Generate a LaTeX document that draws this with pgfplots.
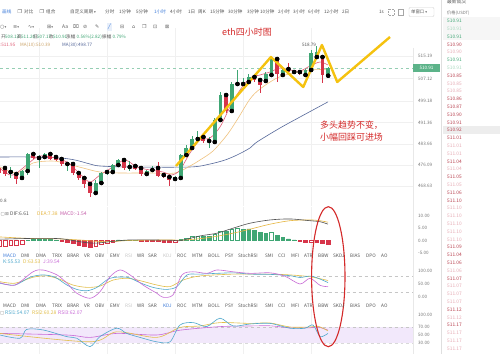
\documentclass[border=0pt]{standalone}
\usepackage{pgfplots}
\pgfplotsset{compat=1.18}
\usepackage{pgfplotstable}
\usepackage{fontspec}
\setmainfont{Noto Sans CJK SC}
\newfontfamily\djf{DejaVu Sans}
\newcommand\fs[1]{\fontsize{#1}{#1}\selectfont}
\definecolor{cup}{HTML}{3FA674}
\definecolor{cdn}{HTML}{D7354A}
\definecolor{ma5}{HTML}{E06078}
\definecolor{ma10}{HTML}{F0C27E}
\definecolor{ma30}{HTML}{56689A}
\definecolor{zig}{HTML}{F5C20F}
\definecolor{gridc}{HTML}{F0F0F0}
\definecolor{txt}{HTML}{555555}
\definecolor{lbl}{HTML}{777777}
\definecolor{dif}{HTML}{505050}
\definecolor{dea}{HTML}{E6B640}
\definecolor{macdc}{HTML}{C45AA8}
\definecolor{kc}{HTML}{4EA8CC}
\definecolor{dc}{HTML}{E2BE48}
\definecolor{jc}{HTML}{C86AD6}
\definecolor{band}{HTML}{F2E8FB}
\definecolor{annot}{HTML}{D42A2A}
\definecolor{blu}{HTML}{3D7BD9}
\definecolor{obG}{HTML}{3FA674}
\definecolor{obg}{HTML}{A8D8BE}
\definecolor{obR}{HTML}{B8404E}
\definecolor{obr}{HTML}{E6AAB4}

\pgfplotstableread{
i o h l c
1 473.64 475.44 471.50 474.36
3 471.50 474.36 471.14 474.00
4 474.00 480.45 472.57 480.09
6 478.66 479.73 475.08 479.02
7 479.02 480.45 478.66 480.09
11 476.51 477.23 474.00 476.87
16 466.13 470.78 465.41 469.70
17 469.70 473.64 469.35 473.29
18 473.64 474.36 472.57 474.00
19 473.64 476.51 473.29 476.15
20 476.15 478.30 475.79 477.94
22 475.44 477.58 474.00 475.79
25 472.93 474.36 472.21 474.00
26 474.36 475.79 474.00 474.72
30 471.14 472.21 470.78 471.85
31 471.50 480.09 471.14 479.73
32 479.73 483.31 479.38 482.24
33 482.24 486.54 481.88 485.46
34 485.46 488.33 485.10 486.18
36 484.75 486.18 482.24 485.10
37 484.39 492.98 484.03 492.27
38 492.27 502.30 491.91 501.22
40 495.49 505.88 495.13 505.16
41 505.16 510.18 504.80 505.52
42 505.16 507.31 504.45 505.52
43 505.88 508.74 505.16 507.67
46 506.24 509.46 505.88 508.74
47 508.39 514.47 508.03 514.12
49 508.39 510.53 508.03 510.18
51 509.46 510.18 509.10 509.82
53 508.39 510.53 508.03 510.18
54 510.18 517.34 509.82 516.26
55 514.83 518.79 514.47 516.62
57 508.13 511.20 507.17 510.91
}\up
\pgfplotstableread{
i o h l c
-1 475.08 475.79 472.57 473.29
0 475.08 475.44 472.21 472.93
2 472.93 473.64 469.35 471.14
5 480.09 480.45 478.30 478.66
8 480.09 480.81 477.94 478.30
9 479.02 479.73 477.58 477.94
10 478.30 479.02 475.79 476.51
12 476.51 476.87 472.57 473.29
13 473.29 473.64 470.78 471.50
14 471.50 471.85 467.92 469.35
15 469.35 469.70 464.69 466.13
21 477.94 478.30 474.36 475.08
23 475.79 476.15 474.36 474.72
24 475.08 475.79 472.21 472.93
27 475.08 477.23 471.85 472.21
28 472.57 472.93 471.50 471.85
29 471.85 472.21 468.63 470.78
35 486.18 486.54 484.03 484.75
39 501.22 501.94 494.77 495.49
44 507.67 508.39 505.88 506.59
45 506.59 507.31 501.94 504.80
48 514.12 514.47 505.88 508.74
50 510.53 512.68 509.10 509.46
52 509.46 509.82 508.39 508.74
56 514.83 515.19 505.52 508.39
}\down

\pgfplotsset{
  panel/.style={scale only axis, width=413bp, xmin=-0.88, xmax=71.96,
    anchor=north west, axis line style={draw=none}, tick style={draw=none},
    xtick={6,18,30,42,54}, xticklabels={}, xmajorgrids,
    grid style={gridc, line width=0.4bp},
    ytick pos=right, yticklabel pos=right,
    yticklabel style={font=\fs{4.6}, text=lbl, anchor=west, inner sep=0pt, xshift=5bp},
    /pgf/number format/assume math mode=true},
  wick/.style={only marks, mark=none, forget plot, error bars/.cd, y dir=both, y explicit,
    error mark=none, error bar style={line width=0.7bp, draw=#1}},
  body/.style={only marks, mark=none, forget plot, error bars/.cd, y dir=both, y explicit,
    error mark=none, error bar style={line width=3.9bp, draw=#1}},
}
\tikzset{
  tb/.style={anchor=west, inner sep=0pt, font=\fs{4.6}, text=txt},
  tab/.style={anchor=west, inner sep=0pt, font=\fs{4.7}, text=txt},
  ob/.style={anchor=west, inner sep=0pt, font=\fs{4.8}},
}

\begin{document}
\begin{tikzpicture}
\path[use as bounding box, fill=white] (0bp,0bp) rectangle (500bp,354bp);

% ---------------- main candlestick chart (top at image y=28)
\begin{axis}[panel, at={(0bp,326bp)}, height=178bp, ymin=461.47, ymax=525.22,
  ymajorgrids,
  ytick={468.63,476.09,483.66,491.36,499.18,507.12,515.19},
  yticklabels={468.63,476.09,483.66,491.36,499.18,507.12,515.19}]
\addplot[dashed, color=cup!55, line width=0.5bp, forget plot] coordinates {(-0.88,510.91) (71.96,510.91)};
\addplot[ma30, line width=0.6bp, smooth] coordinates {(-0.88,479.02) (4.41,479.02) (9.70,478.66) (12.35,477.94) (14.99,476.51) (16.75,475.79) (22.05,475.44) (32.63,475.44) (36.16,476.51) (38.80,477.94) (40.92,479.73) (43.21,482.24) (44.44,484.39) (48.50,489.40) (52.03,493.34) (56.97,498.77)};
\addplot[ma10, line width=0.6bp, smooth] coordinates {(-0.88,475.44) (2.12,473.29) (4.94,476.87) (7.94,477.58) (9.70,477.23) (13.76,475.08) (16.75,473.64) (20.28,473.29) (25.57,473.29) (29.98,473.29) (32.63,475.79) (34.39,477.94) (36.68,481.16) (39.15,486.90) (40.92,492.27) (43.21,499.79) (44.97,503.37) (47.97,507.31) (50.79,509.10) (53.79,510.18) (56.97,510.39)};
\addplot[ma5, line width=0.6bp, smooth] coordinates {(-0.88,475.08) (1.41,472.57) (5.64,479.02) (7.94,479.02) (10.93,477.23) (13.23,472.93) (14.99,470.06) (16.75,472.57) (19.05,475.44) (21.16,477.94) (23.28,475.44) (25.57,474.36) (27.87,473.64) (29.45,472.57) (30.86,474.36) (32.63,480.45) (34.39,485.10) (36.16,485.82) (37.92,489.76) (39.68,496.92) (41.45,503.01) (43.21,507.31) (44.97,508.39) (46.74,509.46) (48.50,510.89) (50.26,510.18) (52.03,509.82) (53.79,511.61) (55.56,513.04) (56.97,511.95)};
\addplot[wick=cup] table[x=i, y=o, y error plus expr=\thisrow{h}-\thisrow{o}, y error minus expr=\thisrow{o}-\thisrow{l}] {\up};
\addplot[body=cup] table[x=i, y=o, y error plus expr=\thisrow{c}-\thisrow{o}, y error minus expr=0] {\up};
\addplot[wick=cdn] table[x=i, y=o, y error plus expr=\thisrow{h}-\thisrow{o}, y error minus expr=\thisrow{o}-\thisrow{l}] {\down};
\addplot[body=cdn] table[x=i, y=o, y error plus expr=0, y error minus expr=\thisrow{o}-\thisrow{c}] {\down};
\addplot[zig, line width=2.4bp, line join=round] coordinates {(30.16,475.79) (46.9,514.83) (52.6,504.09) (55.9,519.13) (58.6,505.88) (67.9,521.99)};
\end{axis}

% ---------------- MACD panel (top at image y=207)
\begin{axis}[panel, at={(0bp,147bp)}, height=47bp, ymin=-5.32, ymax=13.48,
  ytick={10,5,0,-5}, yticklabels={10.00,5.00,0.00,-5.00}]
\addplot[ybar, bar width=3.6bp, bar shift=0pt, fill=white, draw=cdn, line width=0.5bp] coordinates {(-1,-2.4) (0,-2.2) (1,-2.0) (2,-1.8) (3,-1.4) (16,-2.3) (17,-1.6) (18,-1.0) (19,-0.5) (25,-0.3) (26,-0.2) (30,-0.6) (54,-0.5)};
\addplot[ybar, bar width=3.6bp, bar shift=0pt, fill=cdn, draw=cdn, line width=0.5bp] coordinates {(10,-0.3) (11,-0.6) (12,-1.2) (13,-1.7) (14,-2.1) (15,-2.6) (24,-0.3) (27,-0.4) (28,-0.6) (29,-0.8) (52,-0.3) (53,-0.6) (55,-0.6) (56,-1.0) (57,-1.54)};
\addplot[ybar, bar width=3.6bp, bar shift=0pt, fill=white, draw=cup, line width=0.5bp] coordinates {(4,0.3) (5,0.5) (6,0.6) (7,0.6) (8,0.4) (9,0.2) (21,0.3) (22,0.2) (23,0.1) (31,0.6) (32,1.1) (33,1.6) (34,1.9) (37,2.6) (38,3.8) (40,4.6) (41,4.8) (47,3.4)};
\addplot[ybar, bar width=3.6bp, bar shift=0pt, fill=cup, draw=cup, line width=0.5bp] coordinates {(20,0.3) (35,1.8) (36,1.7) (39,3.6) (42,4.5) (43,4.7) (44,4.0) (45,3.4) (46,3.0) (48,2.0) (49,1.4) (50,0.7) (51,0.3)};
\addplot[dea, line width=0.6bp, smooth] coordinates {(-0.88,1.5) (4.41,0.9) (9.70,0.7) (13.76,0.2) (15.87,-0.2) (18.52,-0.4) (22.05,0.1) (29.10,0.3) (30.86,0.2) (34.39,0.8) (37.39,1.8) (40.21,3.0) (43.21,4.6) (46.74,6.6) (50.26,8.0) (53.79,8.3) (55.56,8.0) (56.97,7.38)};
\addplot[dif, line width=0.6bp, smooth] coordinates {(-0.88,0.6) (4.41,0.9) (9.70,0.8) (13.76,-0.6) (15.87,-1.0) (18.52,-0.4) (22.05,0.3) (29.10,0.2) (30.86,0.0) (34.39,1.9) (37.39,3.0) (40.21,5.0) (43.21,7.0) (46.74,8.3) (50.26,8.7) (53.79,8.0) (55.56,7.6) (56.97,6.61)};
\end{axis}

% ---------------- KDJ panel (top at image y=259)
\begin{axis}[panel, at={(0bp,95bp)}, height=42bp, ymin=-15.4, ymax=146.2,
  ytick={100,50,0}, yticklabels={100.00,50.00,0.00}]
\addplot[dashed, gray!45, line width=0.4bp] coordinates {(-0.88,80) (71.96,80)};
\addplot[dashed, gray!45, line width=0.4bp] coordinates {(-0.88,20) (71.96,20)};
\addplot[dc, line width=0.6bp, smooth] coordinates {(-0.88,59) (1.76,53) (4.94,76) (7.41,81) (9.70,68) (11.99,46) (14.46,37) (16.75,42) (19.05,65) (21.52,72) (23.81,63) (26.81,46) (29.10,40) (31.39,65) (34.39,81) (40.21,88) (43.21,88) (46.74,88) (50.26,85) (53.79,78) (56.97,63.53)};
\addplot[kc, line width=0.6bp, smooth] coordinates {(-0.88,53) (1.76,46) (4.41,76) (6.70,85) (8.82,76) (10.93,46) (12.70,29) (14.46,24) (16.23,37) (18.52,72) (21.52,76) (23.81,55) (26.10,37) (28.57,29) (30.33,40) (32.10,85) (34.39,88) (40.21,93) (43.21,88) (46.74,87) (50.26,82) (52.03,75) (54.14,80) (56.97,55.53)};
\addplot[jc, line width=0.6bp, smooth] coordinates {(-0.88,55) (1.76,46) (4.94,97) (6.70,104) (9.17,85) (10.93,53) (12.70,14) (14.99,-5) (16.75,20) (18.52,78) (20.28,104) (22.05,85) (24.34,46) (26.81,14) (27.87,-1) (29.63,8) (31.22,85) (33.16,97) (35.63,91) (37.39,104) (40.21,97) (43.21,91) (46.74,93) (49.38,80) (52.03,50) (53.79,72) (55.56,45) (56.97,39.54)};
\end{axis}

% ---------------- RSI panel (top at image y=309)
\begin{axis}[panel, at={(0bp,45bp)}, height=45bp, ymin=2.5, ymax=115,
  ytick={100,70,50,30}, yticklabels={100.00,70.00,50.00,30.00}]
\addplot[fill=band, draw=none] coordinates {(-0.88,30) (71.96,30) (71.96,70) (-0.88,70)} -- cycle;
\addplot[dashed, gray!45, line width=0.4bp] coordinates {(-0.88,70) (71.96,70)};
\addplot[dashed, gray!30, line width=0.4bp] coordinates {(-0.88,30) (71.96,30)};
\addplot[jc, line width=0.6bp, smooth] coordinates {(-0.88,54) (10.88,50) (14.99,44) (19.70,54) (26.75,50) (30.86,62) (37.92,71) (43.21,72.5) (46.74,73) (50.26,68) (53.79,68) (55.21,70) (56.97,62.07)};
\addplot[dc, line width=0.6bp, smooth] coordinates {(-0.88,54) (14.99,33) (19.70,58) (26.75,44) (30.86,69) (34.39,72.5) (37.92,81) (43.21,79) (46.74,80) (50.26,70) (53.79,70) (55.21,72) (56.97,60.28)};
\addplot[kc, line width=0.6bp, smooth] coordinates {(-0.88,50) (2.65,42) (3.83,64) (6.75,62.5) (10.88,46) (12.65,42) (14.99,21) (16.75,46) (19.70,67) (21.46,54) (23.81,44) (26.75,33) (29.10,33) (30.86,75) (33.21,81) (35.57,71) (37.92,92) (40.26,72.5) (43.21,77.5) (46.74,79) (50.26,67) (52.91,67) (54.32,75) (55.56,46) (56.97,54.07)};
\end{axis}

% ================= overlay in image coordinates (y down from top)
\begin{scope}[shift={(0bp,354bp)}, x=1bp, y=-1bp]
\draw[gray!18, line width=0.5bp] (413,48) -- (413,354);
\draw[gray!25, line width=0.5bp] (441.5,0) -- (441.5,354);
\fill[gray!7] (443,17) rectangle (500,40);
\fill[gray!14] (443,126.5) rectangle (500,134.5);

% toolbar row 1
\node[tb, text=blu] at (2,12) {画线};
\node[tb, font=\djf\fs{5}] at (17.5,12) {❐};
\node[tb] at (24,12) {对比};
\node[tb, font=\djf\fs{5}] at (39.5,12) {❐};
\node[tb] at (46,12) {组合};
\node[tb] at (70,12) {自定义周期 {\djf\fs{3.5}▾}};
\node[tb] at (105,12) {分时};
\node[tb] at (119,12) {1分钟};
\node[tb] at (136,12) {5分钟};
\node[tb, text=blu] at (154,12) {1小时};
\node[tb] at (170,12) {4小时};
\node[tb] at (188,12) {1日};
\node[tb] at (198,12) {周K};
\node[tb] at (210,12) {15分钟};
\node[tb] at (228,12) {30分钟};
\node[tb] at (247,12) {3分钟};
\node[tb] at (260,12) {10分钟};
\node[tb] at (278,12) {2小时};
\node[tb] at (293,12) {3小时};
\node[tb] at (308,12) {6小时};
\node[tb] at (324,12) {12小时};
\node[tb] at (342,12) {2日};
\node[tb] at (379,12) {1s};
\draw[gray!70, densely dotted, line width=0.5bp] (388.5,9.5) rectangle (394.5,15);
\draw[gray!70, line width=0.5bp] (398.5,9.5) rectangle (403.5,15);
\draw[gray!35, line width=0.4bp, rounded corners=1bp] (409,7.5) rectangle (434,16.5);
\node[tb, font=\fs{4.4}] at (411,12) {单窗口 {\djf\fs{3.5}▾}};

% toolbar row 2 (drawing tools)
\begin{scope}[every node/.style={anchor=west, inner sep=0pt, text=gray!75!black, font=\djf\fs{5}}]
\node at (0,27) {○{\fs{3.5}▾}};
\node at (13,27) {≡{\fs{3.5}▾}};
\node at (28,27) {∿{\fs{3.5}▾}};
\node at (47,27) {⊞{\fs{3.5}▾}};
\node[font=\fs{5}] at (62,27) {Aa};
\node at (73,27) {⌧};
\node at (83,27) {⊘};
\node at (95,27) {✎};
\node[fill=blu!12, text=blu, inner sep=0.8bp] at (107,27) {╱};
\node at (120,27) {⊟};
\node at (132,27) {⌂};
\node at (142,27) {❐};
\node at (153,27) {⊡};
\node at (165,27) {⊠};
\end{scope}

% price header
\node[tb] at (1,37) {开};
\node[tb, text=cup] at (5,37) {508.13};
\node[tb] at (17,37) {高};
\node[tb, text=cup] at (21,37) {511.20};
\node[tb] at (33,37) {低};
\node[tb, text=cup] at (37,37) {507.17};
\node[tb] at (49,37) {收};
\node[tb, text=cup] at (53,37) {510.91};
\node[tb] at (66,37) {涨幅};
\node[tb, text=cup] at (76.5,37) {0.56\%(2.82)};
\node[tb] at (102,37) {振幅};
\node[tb, text=cup] at (112.5,37) {0.79\%};
\node[tb, anchor=east, text=ma5] at (15.5,45) {MA(5):511.95};
\node[tb, text=ma10!85!black] at (20,45) {MA(10):510.39};
\node[tb, text=ma30] at (62,45) {MA(30):498.77};

% annotations
\node[anchor=west, inner sep=0pt, text=annot, font=\fs{9}] at (222,32) {eth四小时图};
\node[anchor=west, inner sep=0pt, text=annot, font=\fs{9}] at (320,125) {多头趋势不变，};
\node[anchor=west, inner sep=0pt, text=annot, font=\fs{9}] at (320,137.5) {小幅回踩可进场};
\node[inner sep=0pt, text=txt, font=\fs{4.6}] at (309,45) {518.79};
\node[tb, text=txt] at (0,201) {0.8};
\node[fill=cup!85, text=white, font=\fs{4.6}, inner sep=0pt, minimum width=27bp, minimum height=7.5bp] at (426.5,68) {510.91};
\draw[annot, line width=1.1bp] (328.3,276.7) ellipse [x radius=16.7, y radius=70];

% indicator headers
\node[tb, font=\djf\fs{4.5}, text=gray] at (0.5,214) {▢};
\node[tb, font=\djf\fs{4.5}, text=gray] at (5,214) {⊠};
\node[tb, font=\fs{5}, text=dif] at (10,214) {DIF:6.61};
\node[tb, font=\fs{5}, text=dea] at (37,214) {DEA:7.38};
\node[tb, font=\fs{5}, text=macdc] at (60,214) {MACD:-1.54};
\node[tb, font=\fs{5}, text=kc] at (3,262) {K:55.53};
\node[tb, font=\fs{5}, text=dc] at (23,262) {D:63.53};
\node[tb, font=\fs{5}, text=jc] at (43,262) {J:39.54};
\node[tb, font=\djf\fs{4.5}, text=gray] at (0,313) {▢};
\node[tb, font=\fs{5}, text=kc] at (5,313) {RSI1:54.07};
\node[tb, font=\fs{5}, text=dc] at (32,313) {RSI2:60.28};
\node[tb, font=\fs{5}, text=jc] at (58,313) {RSI3:62.07};

% indicator tabs
\foreach \n/\x in {DMI/21,DMA/36,TRIX/52,BRAR/67,VR/84,OBV/95,EMV/110,WR/137,SAR/148,ROC/177,MTM/192,BOLL/208,PSY/225,StochRSI/238,SMI/265,CCI/278,MFI/291,ATR/304,BBW/318,SKDJ/333,BIAS/350,DPO/366,AO/381}{
  \node[tab] at (\x,256) {\n};
  \node[tab] at (\x,306) {\n};
}
\node[tab, text=blu] at (3,256) {MACD};
\node[tab] at (3,306) {MACD};
\node[tab, text=gray!45] at (125,256) {RSI};
\node[tab, text=gray!45] at (125,306) {RSI};
\node[tab, text=gray!45] at (163,256) {KDJ};
\node[tab, text=blu] at (163,306) {KDJ};

% order book
\node[ob, text=txt] at (447,1.5) {最新成交};
\node[ob, text=lbl, font=\fs{4.3}] at (447,13) {价格(USDT)};
\foreach \k/\p/\c in {0/510.91/obG,1/510.91/obg,2/510.91/obG,3/510.90/obR,4/510.90/obr,5/510.91/obG,6/510.91/obg,7/510.85/obR,8/510.85/obr,9/510.85/obr,10/510.86/obR,11/510.87/obR,12/510.90/obR,13/510.91/obR,14/510.92/obR,15/511.01/obR,16/511.01/obr,17/511.01/obr,18/511.04/obR,19/511.04/obr,20/511.05/obR,21/511.05/obr,22/511.06/obR,23/511.10/obR,24/511.10/obr,25/511.10/obr,26/511.10/obr,27/511.10/obr,28/511.10/obr,29/511.09/obR,30/511.04/obR,31/511.06/obR,32/511.06/obr,33/511.07/obR,34/511.07/obr,35/511.07/obr,36/511.07/obr,37/511.12/obR,38/511.12/obr,39/511.17/obR,40/511.17/obr,41/511.17/obr,42/511.17/obr}{
  \node[ob, text=\c] at (447,{21+7.8*\k}) {\p};
}
\end{scope}
\end{tikzpicture}
\end{document}
